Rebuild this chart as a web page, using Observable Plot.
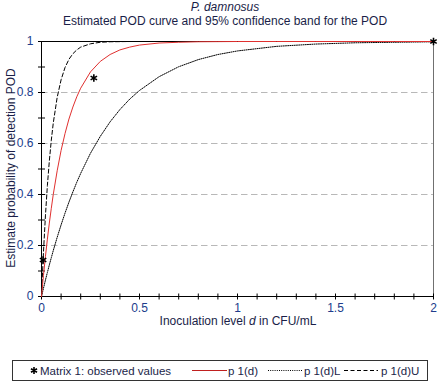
<!DOCTYPE html>
<html><head><meta charset="utf-8">
<script src="https://cdn.jsdelivr.net/npm/d3@7"></script>
<script src="https://cdn.jsdelivr.net/npm/@observablehq/plot@0.6"></script>
<style>
body{margin:0;width:445px;height:385px;position:relative;background:#fff;font-family:"Liberation Sans",Arial,sans-serif;overflow:hidden}
#chart{position:absolute;left:0;top:0}
#over{position:absolute;left:0;top:0;pointer-events:none}
#legend{position:absolute;left:0;top:345px}
</style></head>
<body>
<div id="chart"></div>
<div id="over"></div>
<div id="legend"></div>
<script>
const dose = [0,0.01,0.02,0.03,0.04,0.05,0.06,0.08,0.10,0.12,0.14,0.16,0.18,0.20,0.25,0.30,0.35,0.40,0.45,0.50,0.60,0.70,0.80,0.90,1.0,1.2,1.4,1.6,1.8,2.0];
const pod = [0,0.082,0.156,0.225,0.288,0.346,0.400,0.493,0.573,0.639,0.696,0.743,0.783,0.817,0.881,0.922,0.949,0.967,0.978,0.986,0.994,0.997,0.999,0.9995,1,1,1,1,1,1];
const podL = [0,0.032,0.064,0.094,0.124,0.152,0.180,0.232,0.281,0.327,0.370,0.410,0.448,0.483,0.562,0.628,0.685,0.733,0.774,0.808,0.862,0.901,0.929,0.949,0.963,0.981,0.990,0.995,0.997,0.999];
const podU = [0,0.173,0.316,0.435,0.532,0.613,0.680,0.781,0.850,0.898,0.930,0.952,0.967,0.978,0.991,0.997,0.999,0.9995,1,1,1,1,1,1,1,1,1,1,1,1];
const obsDose = [0.008,0.267,2];
const obsPod = [0.143,0.857,1];
const xTicks = [0,0.5,1,1.5,2];
const yTicks = [0,0.2,0.4,0.6,0.8,1];
const xMinor = [0,0.1,0.2,0.3,0.4,0.5,0.6,0.7,0.8,0.9,1,1.1,1.2,1.3,1.4,1.5,1.6,1.7,1.8,1.9,2];
const yMinor = [0,0.1,0.2,0.3,0.4,0.5,0.6,0.7,0.8,0.9,1];
const grid = [0.2,0.4,0.6,0.8];

const rows = dose.map((d,i)=>({d, p:pod[i], L:podL[i], U:podU[i]}));
const obs = obsDose.map((d,i)=>({d, p:obsPod[i]}));

const vTick = {draw(ctx){ctx.moveTo(0,-3);ctx.lineTo(0,3);}};
const hTick = {draw(ctx){ctx.moveTo(-3.5,0);ctx.lineTo(3.5,0);}};

const chart = Plot.plot({
  width:445, height:345,
  marginLeft:41, marginRight:12, marginTop:41, marginBottom:49,
  style:{fontFamily:"'Liberation Sans',Arial,sans-serif", fontSize:"12px", background:"white"},
  x:{domain:[0,2]},
  y:{domain:[0,1]},
  marks:[
    Plot.ruleY(grid,{stroke:"#b8b8b8",strokeDasharray:"6.5,3.5"}),
    Plot.ruleX([2],{stroke:"#707070"}),
    Plot.ruleY([1],{stroke:"black"}),
    Plot.axisX({ticks:xTicks, tickSize:0, tickPadding:7, tickFormat:d3.format(""), fill:"#203c8c", label:null}),
    Plot.axisY({ticks:yTicks, tickSize:0, tickPadding:8, tickFormat:d3.format(""), fill:"#203c8c", label:null}),
    Plot.ruleX([0],{stroke:"black"}),
    Plot.ruleY([0],{stroke:"black"}),
    Plot.dot(xMinor,{x:d=>d, y:()=>0, symbol:vTick, stroke:"black", fill:"none", strokeWidth:1}),
    Plot.dot(yMinor,{x:()=>0, y:d=>d, symbol:hTick, stroke:"black", fill:"none", strokeWidth:1}),
    Plot.line(rows,{x:"d",y:"L",stroke:"black",strokeWidth:1,strokeDasharray:"1,1.2"}),
    Plot.line(rows,{x:"d",y:"U",stroke:"black",strokeWidth:1,strokeDasharray:"4,2.5"}),
    Plot.line(rows,{x:"d",y:"p",stroke:"#e0302f",strokeWidth:1}),
    Plot.dot(obs,{x:"d",y:"p",symbol:"asterisk",r:3.5,stroke:"black",strokeWidth:1.6})
  ]
});
document.getElementById("chart").append(chart);

// titles and axis labels
const ov = d3.select("#over").append("svg").attr("width",445).attr("height",345)
  .style("font-family","'Liberation Sans',Arial,sans-serif").style("font-size","12px");
ov.append("text").attr("x",225).attr("y",10.5).attr("text-anchor","middle").attr("fill","#1a1e48").attr("font-style","italic").text("P. damnosus");
ov.append("text").attr("x",225).attr("y",24.5).attr("text-anchor","middle").attr("fill","#1a1e48").text("Estimated POD curve and 95% confidence band for the POD");
ov.append("text").attr("transform","translate(14.5,168) rotate(-90)").attr("text-anchor","middle").attr("fill","#1a1e48").text("Estimate probability of detection POD");
const xl = ov.append("text").attr("x",238).attr("y",325).attr("text-anchor","middle").attr("fill","#1a1e48");
xl.append("tspan").text("Inoculation level ");
xl.append("tspan").attr("font-style","italic").text("d");
xl.append("tspan").text(" in CFU/mL");

// legend
const lg = d3.select("#legend").append("svg").attr("width",445).attr("height",40)
  .style("font-family","'Liberation Sans',Arial,sans-serif").style("font-size","11.5px");
lg.append("rect").attr("x",12.5).attr("y",15.5).attr("width",415).attr("height",20).attr("fill","white").attr("stroke","#333");
const cy = 25.5;
const r = 3.5;
lg.append("path").attr("d",`M0,${-r}L0,${r}M${-r*0.87},${-r*0.5}L${r*0.87},${r*0.5}M${-r*0.87},${r*0.5}L${r*0.87},${-r*0.5}`)
  .attr("transform",`translate(34,${cy})`).attr("stroke","black").attr("stroke-width",1.6).attr("fill","none");
const txt = (x,s)=>lg.append("text").attr("x",x).attr("y",cy+4.2).attr("fill","#1a1e48").text(s);
txt(40,"Matrix 1: observed values");
lg.append("line").attr("x1",192).attr("x2",227).attr("y1",cy).attr("y2",cy).attr("stroke","#c0201f").attr("stroke-width",1.2);
txt(228,"p 1(d)");
lg.append("line").attr("x1",268).attr("x2",302).attr("y1",cy).attr("y2",cy).attr("stroke","black").attr("stroke-dasharray","1,1.2");
txt(304,"p 1(d)L");
lg.append("line").attr("x1",344).attr("x2",378).attr("y1",cy).attr("y2",cy).attr("stroke","black").attr("stroke-dasharray","4,2.5");
txt(381,"p 1(d)U");
</script>
</body></html>
